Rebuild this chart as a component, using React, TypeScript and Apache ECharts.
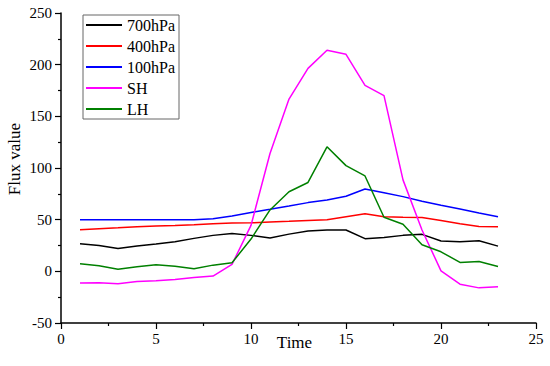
import React, { useEffect, useRef } from "react";
import * as echarts from "echarts";

const times = [1, 2, 3, 4, 5, 6, 7, 8, 9, 10, 11, 12, 13, 14, 15, 16, 17, 18, 19, 20, 21, 22, 23];
const hpa700 = [26.7, 25, 22, 24.5, 26.4, 28.6, 31.9, 34.8, 36.7, 34.8, 32.2, 36, 39, 40, 40, 31.6, 32.8, 34.8, 35.8, 29.3, 28.6, 29.6, 24.4];
const hpa400 = [40.3, 41.3, 42.2, 43.2, 43.8, 44.3, 45, 46, 46.7, 46.9, 47.7, 48.4, 49.3, 50, 52.9, 55.8, 52.9, 52.3, 52, 49.3, 46, 43.5, 43.2];
const hpa100 = [50, 50, 50, 50, 50, 50, 50, 51, 53.5, 57, 60, 63.2, 66.5, 69, 72.6, 79.7, 76, 72.3, 67.8, 63.9, 60.3, 56.4, 52.9];
const sh = [-11.4, -11, -12, -9.8, -9.2, -7.9, -5.9, -4.6, 6.7, 44.5, 114, 166.7, 196.4, 213.9, 210, 180, 170, 88.5, 40, 0.5, -12.4, -16, -15];
const lh = [7.3, 5.4, 2.1, 4.4, 6.3, 5, 2.4, 6, 8.3, 31.2, 59.4, 77, 86, 120.5, 102.3, 92.3, 52.3, 45.5, 25.7, 18.9, 8.6, 9.6, 4.7];

const seriesNames = ["700hPa", "400hPa", "100hPa", "SH", "LH"];
const seriesValues = [hpa700, hpa400, hpa100, sh, lh];
const seriesColors = ["#000000", "#ff0000", "#0000ff", "#ff00ff", "#008000"];
const xTitle = "Time";
const yTitle = "Flux value";

const FONT = "'Liberation Serif', 'Times New Roman', Times, serif";

export default function App() {
  const ref = useRef<HTMLDivElement>(null);
  useEffect(() => {
    if (!ref.current) return;
    const chart = echarts.init(ref.current, null, { renderer: "svg" });
    chart.setOption({
      animation: false,
      backgroundColor: "#ffffff",
      textStyle: { fontFamily: FONT },
      grid: { left: 61, right: 14, top: 13, bottom: 43, containLabel: false, outerBoundsMode: "none" },
      legend: {
        orient: "vertical",
        left: 83,
        top: 15,
        padding: [2, 4, 2, 3],
        itemGap: 5,
        itemWidth: 36,
        itemHeight: 2,
        icon: "rect",
        borderColor: "#666666",
        borderWidth: 1,
        textStyle: { fontFamily: FONT, fontSize: 16, color: "#000", lineHeight: 16 },
        data: seriesNames,
      },
      graphic: [
        {
          type: "text",
          x: 294.5,
          y: 342.5,
          style: { text: xTitle, fontFamily: FONT, fontSize: 17, fill: "#000", align: "center", verticalAlign: "middle" },
        },
        {
          type: "text",
          x: 14.5,
          y: 159,
          rotation: Math.PI / 2,
          style: { text: yTitle, fontFamily: FONT, fontSize: 17, fill: "#000", align: "center", verticalAlign: "middle" },
        },
      ],
      xAxis: {
        type: "value",
        min: 0,
        max: 25,
        interval: 5,
        axisLine: { show: true, onZero: false, lineStyle: { color: "#000", width: 1.5 } },
        axisTick: { show: true, inside: false, length: 6, lineStyle: { color: "#000", width: 1.2 } },
        minorTick: { show: true, splitNumber: 2, length: 3, lineStyle: { color: "#000", width: 1.2 } },
        axisLabel: { fontFamily: FONT, fontSize: 15, color: "#000", margin: 8 },
        splitLine: { show: false },
      },
      yAxis: {
        type: "value",
        min: -50,
        max: 250,
        interval: 50,
        axisLine: { show: true, onZero: false, lineStyle: { color: "#000", width: 1.5 } },
        axisTick: { show: true, inside: false, length: 6, lineStyle: { color: "#000", width: 1.2 } },
        minorTick: { show: true, splitNumber: 2, length: 3, lineStyle: { color: "#000", width: 1.2 } },
        axisLabel: { fontFamily: FONT, fontSize: 15, color: "#000", margin: 9 },
        splitLine: { show: false },
      },
      series: seriesNames.map((name, i) => ({
        name,
        type: "line",
        symbol: "none",
        showSymbol: false,
        color: seriesColors[i],
        lineStyle: { color: seriesColors[i], width: 1.5 },
        data: times.map((t, j) => [t, seriesValues[i][j]]),
      })),
    });
    return () => chart.dispose();
  }, []);
  return <div ref={ref} style={{ width: 550, height: 366, position: "absolute", left: 0, top: 0 }} />;
}
